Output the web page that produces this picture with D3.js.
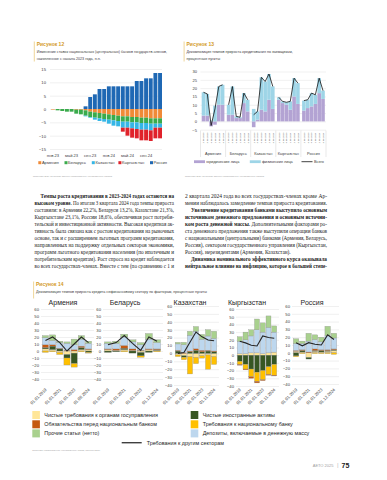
<!DOCTYPE html>
<html>
<head>
<meta charset="utf-8">
<script src="https://cdn.jsdelivr.net/npm/d3@7"></script>
<style>
  body { margin: 0; background: #fff; }
  svg { display: block; }
</style>
</head>
<body>
<svg id="page" width="387" height="480"></svg>
<script>
// ---------- Рисунок 12: изменение ставок с начала 2023 года, п.п. ----------
const months12 = ["янв.23","фев.23","мар.23","апр.23","май.23","июн.23","июл.23","авг.23","сен.23","окт.23","ноя.23","дек.23",
                  "янв.24","фев.24","мар.24","апр.24","май.24","июн.24","июл.24","авг.24","сен.24","окт.24","ноя.24","дек.24"];
const monthTicks12 = ["янв.23","май.23","сен.23","янв.24","май.24","сен.24"];
const countries = ["Армения","Беларусь","Казахстан","Кыргызстан","Россия"];
const armenia12 = [-0.2,0,0,0,0,-0.25,-0.25,-0.5,-1,-1.25,-1.5,-1.75,-2,-2.25,-2.5,-2.75,-2.75,-3,-3,-3.25,-3.25,-3.5,-3.5,-3.5];
const belarus12 = [0,-0.5,-0.75,-1,-1,-1.5,-1.75,-2,-2,-2,-2,-2,-2,-2,-2,-2,-2,-2,-2,-2,-2,-2,-2,-2];
const kazakhstan12 = [0,0,0,0,0,0,0,-0.25,-0.25,-0.75,-1,-1,-1.5,-2,-2,-2.25,-2.25,-2.25,-2.5,-2.5,-2.5,-2.5,-1.5,-1.5];
const kyrgyzstan12 = [0,0,0,0,0,0,0,0,0,0,0,0,0,0,0,-1.5,-3,-3.5,-3.5,-4,-4,-4,-4,-4];
const russia12 = [0,0,0,0,0,0,0,1,4.5,5.5,7.5,7.5,8.5,8.5,8.5,8.5,8.5,8.5,10.5,10.5,11.5,11.5,13.5,13.5];
const colors12 = ["#f08a38","#3aab4c","#35b6e6","#e0222b","#1f68b4"];

// ---------- Рисунок 13: вклад заемщиков в прирост кредитования, п.п. ----------
const quarters13 = ["2 кв.2023","3 кв.2023","4 кв.2023","1 кв.2024","2 кв.2024","3 кв.2024"];
const legal13 = [
  [3.5, 3.5, -3, -2, 10, 10],
  [4, 4, 2, 2, 11, 6],
  [-3.5, 1, 7, 6, 13, 7.5],
  [13, 11, 10, 7, 15, 10.5],
  [6.5, 8, 9, 10.5, 17, 13.5]
];
const retail13 = [
  [14, 13, 0.5, 9.5, 11, 12],
  [6, 17, 1, 0.5, 6, 7],
  [7.5, 5, 19.5, 18, 15.5, 13.5],
  [1.5, 1, 1.5, 5, 11, 12.5],
  [6, 5, 8, 5.5, 9, 5]
];
const total13 = [
  [17.5, 16.5, -2.5, 7.5, 21, 22],
  [10, 21, 3, 2.5, 17, 13],
  [4, 6, 26.5, 24, 28.5, 21],
  [14.5, 12, 11.5, 12, 26, 23],
  [12.5, 13, 17, 16, 26, 18.5]
];

// ---------- Рисунок 14: факторы прироста кредита, п.п. ----------
const dates14 = [
  ["01.01.2019","01.01.2020","01.01.2021","01.01.2022","01.01.2023","01.01.2024","01.08.2024"],
  ["01.01.2019","01.01.2020","01.01.2021","01.01.2022","01.01.2023","01.01.2024","01.12.2024"],
  ["01.01.2019","01.01.2020","01.01.2021","01.01.2022","01.01.2023","01.01.2024","01.11.2024"],
  ["01.01.2019","01.01.2020","01.01.2021","01.01.2022","01.01.2023","01.01.2024","01.11.2024"],
  ["01.01.2019","01.01.2020","01.01.2021","01.01.2022","01.01.2023","01.01.2024","01.12.2024"]
];
const govClaims14 = [
  [3, 2, -2, -5, -3, 2, 2],
  [2, 1, 2, 1, -2, 2, 1],
  [-2, -3, -4, -5, -3, -2, -4],
  [2, 2, 3, 3, 2, 3, 4],
  [2, 1, -6, 2, 1, 2, 3]
];
const foreignAssets14 = [
  [2, 5, 3, -5, -15, 3, -2],
  [-2, -1, 2, -3, -5, -2, 1],
  [3, -2, 2, 4, 2, 3, 2],
  [-8, -12, -18, -22, -20, -15, -12],
  [-4, 2, -2, 1, 2, 1, 1]
];
const nbClaims14 = [
  [-2, -1, -3, -10, -5, -1, -1],
  [0, 0, -1, 0, -2, 0, -1],
  [-2, -3, -22, -8, -3, -18, -10],
  [-4, -6, -10, -12, -12, -10, -14],
  [-1, -1, 0, -1, -1, -1, -2]
];
const nbLiabilities14 = [
  [4, 2, 1, 1, 2, 2, 1],
  [1, 2, 4, 2, 1, 1, 1],
  [1, 1, 1, 2, 2, 1, 1],
  [-1, -1, -2, -2, -1, -1, -1],
  [1, 1, 1, 2, 1, 1, 1]
];
const deposits14 = [
  [10, 6, 8, 10, 7, 10, 8],
  [8, 8, 12, 10, 8, 14, 9],
  [8, 10, 20, 22, 14, 18, 16],
  [16, 18, 22, 30, 28, 33, 26],
  [9, 8, 14, 12, 10, 18, 14]
];
const otherNet14 = [
  [3, 8, 2, 2, 8, 5, 3],
  [2, 3, 4, 3, 3, 8, 4],
  [2, 3, 5, 6, 6, 8, 9],
  [6, 10, 8, 14, 12, 15, 8],
  [6, 3, 10, 6, 6, 12, 6]
];
const otherSectors14 = [
  [15, 20, 12, 0, 10, 20, 12],
  [9, 12, 22, 11, 1, 20, 14],
  [0, 1, 14, 27, 21, 17, 16],
  [18, 16, 13, 12, 25, 23, 22],
  [13, 9, 13, 11, 10, 23, 17]
];
const factorNames14 = ["Чистые требования к органам госуправления","Чистые иностранные активы",
  "Требования к национальному банку","Обязательства перед национальным банком",
  "Депозиты, включаемые в денежную массу","Прочие статьи (нетто)"];
const factorColors14 = ["#ffe699","#375623","#ffc000","#c55a11","#bdd7ee","#a9d18e"];


const sans = "'Liberation Sans', Arial, sans-serif";
const serif = "'Liberation Serif', 'Times New Roman', serif";
const goldColor = "#d39a28";
const textColor = "#404040";
const gridColor = "#d9d9d9";

const svg = d3.select("#page");

// title block with the thin gold bar on the left
function header(x, y, title, lines, barH){
    svg.append("line")
        .attr("x1", x - 2.4).attr("x2", x - 2.4)
        .attr("y1", y - 4.5).attr("y2", y - 4.5 + barH)
        .attr("stroke", "#e8c46e").attr("stroke-width", 0.7)
    svg.append("text")
        .attr("x", x).attr("y", y)
        .attr("fill", goldColor)
        .style("font", `bold 5px ${sans}`)
        .text(title)
    lines.forEach((l, i) => {
        svg.append("text")
            .attr("x", x).attr("y", y + 7.4 + i * 6.7)
            .attr("fill", textColor)
            .style("font", `3.7px ${sans}`)
            .text(l)
    })
}

function styleAxis(g, size){
    g.select(".domain").remove()
    g.selectAll(".tick line").attr("stroke", gridColor).attr("stroke-width", 0.4)
    g.selectAll(".tick text").attr("fill", textColor).style("font", `${size}px ${sans}`)
}

function sourceNote(x, y, t){
    svg.append("text").attr("x", x).attr("y", y)
        .attr("fill", "#9a9a9a").style("font", `2.4px ${sans}`).text(t)
}


//////////
// FIGURE 12 //
//////////
header(36.7, 46, "Рисунок 12",
    ["Изменение ставок национальных (центральных) банков государств-членов,",
     "накопленное с начала 2023 года, п.п."], 20)

const x12 = d3.scaleBand().domain(months12).range([51, 162]).paddingInner(0.16)
const y12 = d3.scaleLinear().domain([-15, 15]).range([149, 69])

svg.append("g")
    .attr("transform", "translate(50,0)")
    .call(d3.axisLeft(y12).tickValues(d3.range(-15, 16, 5)).tickSize(-112).tickPadding(4))
    .call(g => styleAxis(g, 4.2))

const series12 = [armenia12, belarus12, kazakhstan12, kyrgyzstan12, russia12]
const rows12 = months12.map((m, i) => {
    let r = {month: m}
    countries.forEach((c, j) => r[c] = series12[j][i])
    return r
})
const stack12 = d3.stack().keys(countries).offset(d3.stackOffsetDiverging)(rows12)

svg.append("g")
    .selectAll("g")
    .data(stack12)
    .join("g")
    .attr("fill", (d, i) => colors12[i])
    .selectAll("rect")
    .data(d => d)
    .join("rect")
    .attr("x", d => x12(d.data.month))
    .attr("width", x12.bandwidth())
    .attr("y", d => y12(Math.max(d[0], d[1])))
    .attr("height", d => Math.abs(y12(d[0]) - y12(d[1])))

svg.append("g")
    .attr("transform", "translate(0,151)")
    .call(d3.axisBottom(x12).tickValues(monthTicks12).tickSize(0).tickPadding(3))
    .call(g => styleAxis(g, 4.1))

// legend
const legX12 = [38.3, 64.5, 91.8, 118.4, 150]
countries.forEach((c, i) => {
    svg.append("rect").attr("x", legX12[i]).attr("y", 161.2).attr("width", 3).attr("height", 3)
        .attr("fill", colors12[i])
    svg.append("text").attr("x", legX12[i] + 3.6).attr("y", 164.2)
        .attr("fill", textColor).style("font", `4.1px ${sans}`).text(c)
})
sourceNote(33, 176.5, "Источник: ЕЭК на основе данных национальных (центральных) банков")


//////////
// FIGURE 13 //
//////////
header(186.5, 46, "Рисунок 13",
    ["Декомпозиция темпов прироста кредитования по заемщикам,",
     "процентные пункты"], 20)

const g13 = d3.scaleBand().domain(countries).range([200.5, 326])
const b13 = d3.scaleBand().domain(quarters13).range([1.2, g13.bandwidth() - 1.2]).paddingInner(0.06)
const y13 = d3.scaleLinear().domain([-5, 30]).range([129.7, 71.5])

svg.append("g")
    .attr("transform", "translate(200.5,0)")
    .call(d3.axisLeft(y13).tickValues(d3.range(-5, 31, 5)).tickSize(-125.5).tickPadding(3.5))
    .call(g => styleAxis(g, 4.1))

let rows13 = []
countries.forEach((c, i) => {
    quarters13.forEach((q, j) => {
        rows13.push({country: c, quarter: q, legal: legal13[i][j], retail: retail13[i][j]})
    })
})
const stack13 = d3.stack().keys(["legal", "retail"]).offset(d3.stackOffsetDiverging)(rows13)
const colors13 = {legal: "#b3a3d3", retail: "#9ed5e7"}

svg.append("g")
    .selectAll("g")
    .data(stack13)
    .join("g")
    .attr("fill", d => colors13[d.key])
    .selectAll("rect")
    .data(d => d)
    .join("rect")
    .attr("x", d => g13(d.data.country) + b13(d.data.quarter))
    .attr("width", b13.bandwidth())
    .attr("y", d => y13(Math.max(d[0], d[1])))
    .attr("height", d => Math.abs(y13(d[0]) - y13(d[1])))

// total line, one piece per country
const line13 = d3.line()
    .x(d => d.x)
    .y(d => y13(d.v))
countries.forEach((c, i) => {
    let pts = quarters13.map((q, j) => ({x: g13(c) + b13(q) + b13.bandwidth() / 2, v: total13[i][j]}))
    svg.append("path").datum(pts)
        .attr("d", line13)
        .attr("fill", "none").attr("stroke", "#111").attr("stroke-width", 0.8)
})

// tiny quarter labels + country names + separators
countries.forEach(c => {
    quarters13.forEach(q => {
        let cx = g13(c) + b13(q) + b13.bandwidth() / 2 + 0.9
        svg.append("text")
            .attr("transform", `translate(${cx},132.5) rotate(-90)`)
            .attr("text-anchor", "end")
            .attr("fill", "#595959")
            .style("font", `2.5px ${sans}`)
            .text(q)
    })
    svg.append("text")
        .attr("x", g13(c) + g13.bandwidth() / 2).attr("y", 155)
        .attr("text-anchor", "middle")
        .attr("fill", textColor).style("font", `3.9px ${sans}`)
        .text(c)
})
g13.domain().concat([null]).forEach((c, i) => {
    let xx = 200.5 + i * g13.bandwidth()
    svg.append("line").attr("x1", xx).attr("x2", xx).attr("y1", 130.5).attr("y2", 157)
        .attr("stroke", "#c8c8c8").attr("stroke-width", 0.4)
})

// legend
svg.append("rect").attr("x", 194).attr("y", 160.3).attr("width", 11).attr("height", 2.8).attr("fill", colors13.legal)
svg.append("text").attr("x", 206.3).attr("y", 163.1).attr("fill", textColor).style("font", `3.8px ${sans}`).text("юридические лица")
svg.append("rect").attr("x", 249.8).attr("y", 160.3).attr("width", 11).attr("height", 2.8).attr("fill", colors13.retail)
svg.append("text").attr("x", 262).attr("y", 163.1).attr("fill", textColor).style("font", `3.8px ${sans}`).text("физические лица")
svg.append("line").attr("x1", 301.5).attr("x2", 312.5).attr("y1", 161.7).attr("y2", 161.7).attr("stroke", "#111").attr("stroke-width", 0.8)
svg.append("text").attr("x", 314).attr("y", 163.1).attr("fill", textColor).style("font", `3.8px ${sans}`).text("Всего")
sourceNote(185, 176.5, "Источник: ЕЭК на основе данных национальных (центральных) банков")


//////////
// TEXT COLUMNS //
//////////
const leftLines = [
    {indent: true, parts: [{b: true, t: "Темпы роста кредитования в 2023-2024 годах остаются на"}]},
    {parts: [{b: true, t: "высоком уровне."}, {t: " По итогам 3 квартала 2024 года темпы прироста"}]},
    {parts: [{t: "составили: в Армении 22,2%, Беларуси 13,2%, Казахстане 21,3%,"}]},
    {parts: [{t: "Кыргызстане 23,1%, России 18,6%, обеспечивая рост потреби-"}]},
    {parts: [{t: "тельской и инвестиционной активности. Высокая кредитная ак-"}]},
    {parts: [{t: "тивность была связана как с ростом кредитования на рыночных"}]},
    {parts: [{t: "основе, так и с расширением льготных программ кредитования,"}]},
    {parts: [{t: "направленных на поддержку отдельных секторов экономики,"}]},
    {parts: [{t: "программ льготного кредитования населения (по ипотечным и"}]},
    {parts: [{t: "потребительским кредитам). Рост спроса на кредит наблюдается"}]},
    {parts: [{t: "во всех государствах-членах. Вместе с тем (по сравнению с 1 и"}]}
]
const rightLines = [
    {parts: [{t: "2 квартала 2024 года во всех государствах-членах кроме Ар-"}]},
    {parts: [{t: "мении наблюдалось замедление темпов прироста кредитования."}]},
    {indent: true, parts: [{b: true, t: "Увеличение кредитования банками выступило основным"}]},
    {parts: [{b: true, t: "источником денежного предложения и основным источни-"}]},
    {parts: [{b: true, t: "ком роста денежной массы."}, {t: " Дополнительными факторами ро-"}]},
    {parts: [{t: "ста денежного предложения также выступили операции банков"}]},
    {parts: [{t: "с национальными (центральными) банками (Армения, Беларусь,"}]},
    {parts: [{t: "Россия), сектором государственного управления (Кыргызстан,"}]},
    {last: true, parts: [{t: "Россия), нерезидентами (Армения, Казахстан)."}]},
    {indent: true, parts: [{b: true, t: "Динамика номинального эффективного курса оказывала"}]},
    {parts: [{b: true, t: "нейтральное влияние на инфляцию, которое в большей степе-"}]}
]

function column(lines, x0, x1){
    lines.forEach((l, i) => {
        let xs = l.indent ? x0 + 6 : x0
        let t = svg.append("text")
            .attr("x", xs).attr("y", 197.6 + i * 7.03)
            .attr("fill", "#1a1a1a")
            .style("font", `5.3px ${serif}`)
        if(!l.last){
            t.attr("textLength", x1 - xs).attr("lengthAdjust", "spacingAndGlyphs")
        }
        for(let p of l.parts){
            t.append("tspan").attr("font-weight", p.b ? "bold" : "normal").text(p.t)
        }
    })
}
column(leftLines, 34.5, 174)
column(rightLines, 185, 327)


//////////
// FIGURE 14 //
//////////
header(36, 286, "Рисунок 14",
    ["Декомпозиция темпов прироста кредита нефинансовому сектору по факторам, процентные пункты"], 17)

const layout14 = [
    {x0: 42, x1: 92, top: 309, bottom: 379, titleX: 63},
    {x0: 104, x1: 161, top: 309, bottom: 379, titleX: 125},
    {x0: 175, x1: 217, top: 306, bottom: 385, titleX: 190},
    {x0: 237, x1: 277, top: 309, bottom: 386, titleX: 247},
    {x0: 293, x1: 337, top: 306, bottom: 384, titleX: 312}
]
const factors14 = [govClaims14, foreignAssets14, nbClaims14, nbLiabilities14, deposits14, otherNet14]
const factorKeys = ["gov", "foreign", "nbClaims", "nbLiab", "deposits", "other"]

countries.forEach((c, p) => {
    let L = layout14[p]
    let dates = dates14[p]
    let x = d3.scaleBand().domain(dates).range([L.x0, L.x1]).paddingInner(0.14).paddingOuter(0.05)
    let y = d3.scaleLinear().domain([-40, 60]).range([L.bottom, L.top])

    svg.append("text")
        .attr("x", L.titleX).attr("y", 304.5)
        .attr("text-anchor", "middle")
        .attr("fill", "#262626")
        .style("font", `7px ${sans}`)
        .text(c)

    svg.append("g")
        .attr("transform", `translate(${L.x0 - 1},0)`)
        .call(d3.axisLeft(y).tickValues(d3.range(-40, 61, 10)).tickSize(-(L.x1 - L.x0 + 3)).tickPadding(2))
        .call(g => styleAxis(g, 4.2))

    let rows = dates.map((d, i) => {
        let r = {date: d}
        factorKeys.forEach((k, j) => r[k] = factors14[j][p][i])
        return r
    })
    let stacked = d3.stack().keys(factorKeys).offset(d3.stackOffsetDiverging)(rows)

    svg.append("g")
        .selectAll("g")
        .data(stacked)
        .join("g")
        .attr("fill", (d, i) => factorColors14[i])
        .selectAll("rect")
        .data(d => d.filter(v => v[0] != v[1]))
        .join("rect")
        .attr("x", d => x(d.data.date))
        .attr("width", x.bandwidth())
        .attr("y", d => y(Math.max(d[0], d[1])))
        .attr("height", d => Math.abs(y(d[0]) - y(d[1])))
        .attr("stroke", "#8c8c8c")
        .attr("stroke-width", 0.3)

    svg.append("path")
        .datum(dates.map((d, i) => [x(d) + x.bandwidth() / 2, y(otherSectors14[p][i])]))
        .attr("d", d3.line())
        .attr("fill", "none")
        .attr("stroke", "#262626")
        .attr("stroke-width", 1.1)

    // every other date, rotated
    dates.forEach((d, i) => {
        if(i % 2 != 0) return
        svg.append("text")
            .attr("transform", `translate(${x(d) + x.bandwidth() / 2 + 1.5},390) rotate(-45)`)
            .attr("text-anchor", "end")
            .attr("fill", textColor)
            .style("font", `4.2px ${sans}`)
            .text(d)
    })
})

// legend, two columns + line
const legendSlots14 = [
    {x: 32.3, y: 415, k: 0}, {x: 190.7, y: 415, k: 1},
    {x: 32.3, y: 424.3, k: 3}, {x: 190.7, y: 424.3, k: 2},
    {x: 32.3, y: 433.4, k: 5}, {x: 190.7, y: 433.4, k: 4}
]
legendSlots14.forEach(s => {
    svg.append("rect").attr("x", s.x).attr("y", s.y - 4).attr("width", 7.6).attr("height", 8)
        .attr("fill", factorColors14[s.k])
    svg.append("text").attr("x", s.x + 12).attr("y", s.y + 2)
        .attr("fill", "#262626").style("font", `5.4px ${sans}`).text(factorNames14[s.k])
})
svg.append("line").attr("x1", 121.7).attr("x2", 141.7).attr("y1", 442.7).attr("y2", 442.7)
    .attr("stroke", "#404040").attr("stroke-width", 1.4)
svg.append("text").attr("x", 146.7).attr("y", 444.7)
    .attr("fill", "#262626").style("font", `5.4px ${sans}`).text("Требования к другим секторам")
sourceNote(32.3, 451, "Источник: национальные (центральные) банки, расчеты ЕЭК")

// page footer
svg.append("text").attr("x", 333.5).attr("y", 466.5).attr("text-anchor", "end")
    .attr("fill", "#a0a0a0").style("font", `4px ${sans}`).text("АЕТО 2025")
svg.append("text").attr("x", 337.3).attr("y", 466.8)
    .attr("fill", "#a0a0a0").style("font", `4.5px ${sans}`).text("|")
svg.append("text").attr("x", 341.5).attr("y", 467.8)
    .attr("fill", "#222").style("font", `bold 7px ${sans}`).text("75")
</script>
</body>
</html>
